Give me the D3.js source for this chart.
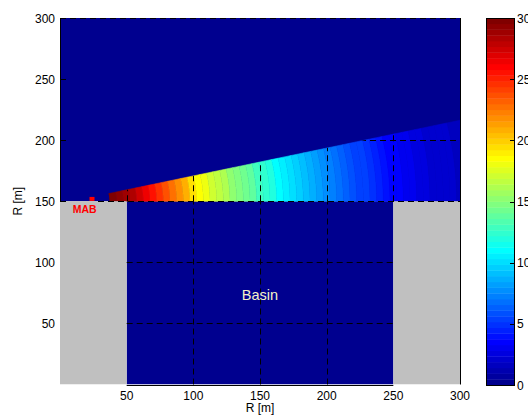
<!DOCTYPE html>
<html>
<head>
<meta charset="utf-8">
<script src="https://cdn.jsdelivr.net/npm/d3@7"></script>
<style>
  body { margin: 0; background: #fff; }
  svg { display: block; font-family: "Liberation Sans", Arial, sans-serif; }
</style>
</head>
<body>
<svg id="chart" width="528" height="419"></svg>
<script>
// ---- tick labels ----
const xTicks = [50, 100, 150, 200, 250, 300];
const yTicks = [50, 100, 150, 200, 250, 300];
const cbarTicks = [0, 5, 10, 15, 20, 25, 30];
const gridTicks = [50, 100, 150, 200, 250];

// ---- field along the beam: value sampled every 5 m of R ----
const beamR = [35, 40, 45, 50, 55, 60, 65, 70, 75, 80, 85, 90, 95, 100, 105, 110, 115, 120,
  125, 130, 135, 140, 145, 150, 155, 160, 165, 170, 175, 180, 185, 190, 195, 200, 205, 210,
  215, 220, 225, 230, 235, 240, 245, 250, 255, 260, 265, 270, 275, 280, 285, 290, 295, 300];
const beamValue = [30.0, 29.8, 29.3, 28.8, 28.2, 27.4, 26.5, 25.6, 24.7, 23.8, 22.9, 22.0,
  20.8, 19.4, 18.6, 17.9, 17.3, 16.7, 16.1, 15.3, 14.8, 14.2, 13.7, 13.1, 12.5, 11.8, 11.2,
  10.6, 10.1, 9.6, 9.1, 8.6, 8.1, 7.6, 7.2, 6.8, 6.4, 6.0, 5.6, 5.2, 4.8, 4.4, 4.0, 3.7,
  3.4, 3.1, 2.9, 2.7, 2.5, 2.3, 2.1, 2.0, 1.9, 1.8];

// ---- scene regions (in metres) ----
const walls = [{ x0: 0, x1: 50, y0: 0, y1: 150 }, { x0: 250, x1: 300, y0: 0, y1: 150 }];
const basin = { x0: 50, x1: 250, y0: 0, y1: 150, label: "Basin", lx: 150, ly: 73 };
const water = { x0: 0, x1: 300, y0: 150, y1: 300 };
const source = { x: 24, y: 151.5, label: "MAB", lx: 18.5, ly: 140 };
const beam = { ox: 9, oy: 150, startR: 37.5, topAtEnd: 216.3, endR: 300 };
const cmin = 0, cmax = 30;

// ---- MATLAB style jet(64) colormap ----
function jet64() {
  const m = 64, n = 16;
  const u = [];
  for (let i = 1; i <= n; i++) u.push(i / n);
  for (let i = 1; i < n; i++) u.push(1);
  for (let i = n; i >= 1; i--) u.push(i / n);
  const r = new Array(m).fill(0), g = new Array(m).fill(0), b = new Array(m).fill(0);
  u.forEach((v, i0) => {
    const i = i0 + 1;
    const gi = 8 + i, ri = gi + n, bi = gi - n;
    if (gi >= 1 && gi <= m) g[gi - 1] = v;
    if (ri >= 1 && ri <= m) r[ri - 1] = v;
    if (bi >= 1 && bi <= m) b[bi - 1] = v;
  });
  return r.map((_, k) => d3.rgb(Math.round(r[k] * 255), Math.round(g[k] * 255), Math.round(b[k] * 255)).formatHex());
}
const cmap = jet64();
const colorOf = v => cmap[Math.max(0, Math.min(63, Math.floor((v - cmin) / (cmax - cmin) * 64)))];
const navy = cmap[0];

// ---- layout ----
const svg = d3.select("#chart");
const x = d3.scaleLinear().domain([0, 300]).range([60, 460]);
const y = d3.scaleLinear().domain([0, 300]).range([384.5, 18]);
const cy = d3.scaleLinear().domain([cmin, cmax]).range([385, 18]);
const cbX0 = 486, cbX1 = 514;
const px = v => Math.round(v) + 0.5;

const defs = svg.append("defs");
defs.append("clipPath").attr("id", "plotClip").append("rect")
  .attr("x", x(0)).attr("y", y(300)).attr("width", x(300) - x(0)).attr("height", y(0) - y(300));

// beam geometry
const theta = Math.atan((beam.topAtEnd - beam.oy) / (beam.endR - beam.ox));
function sector(r0, r1, a0, a1) {
  const steps = 16, pts = [];
  for (let i = 0; i <= steps; i++) {
    const a = a0 + (a1 - a0) * i / steps;
    pts.push([beam.ox + r1 * Math.cos(a), beam.oy + r1 * Math.sin(a)]);
  }
  for (let i = steps; i >= 0; i--) {
    const a = a0 + (a1 - a0) * i / steps;
    pts.push([beam.ox + r0 * Math.cos(a), beam.oy + r0 * Math.sin(a)]);
  }
  return pts;
}
const line = d3.line().x(d => x(d[0])).y(d => y(d[1]));

// grid clip for the beam
defs.append("clipPath").attr("id", "beamClip").append("path")
  .attr("d", line(sector(beam.startR - beam.ox - 9, 320, -0.02, theta)) + "Z");

const plot = svg.append("g").attr("clip-path", "url(#plotClip)");

// water above the basin and the basin itself
[water, basin].forEach(r => {
  plot.append("rect").attr("x", x(r.x0)).attr("y", y(r.y1))
    .attr("width", x(r.x1) - x(r.x0)).attr("height", y(r.y0) - y(r.y1)).attr("fill", navy);
});

// beam field, one ring per sample
const bands = beamR.map((r, i) => {
  const inner = i === 0 ? beam.startR : r - 2.5;
  const outer = i === beamR.length - 1 ? r + 15 : r + 2.5;
  return { r0: inner - beam.ox, r1: outer - beam.ox, v: beamValue[i] };
});
plot.append("g").selectAll("path").data(bands).join("path")
  .attr("d", d => line(sector(d.r0, d.r1, 0, theta)) + "Z")
  .attr("fill", d => colorOf(d.v))
  .attr("stroke", d => colorOf(d.v)).attr("stroke-width", 0.6);

// side walls
plot.append("g").selectAll("rect").data(walls).join("rect")
  .attr("x", d => x(d.x0)).attr("y", d => y(d.y1))
  .attr("width", d => x(d.x1) - x(d.x0)).attr("height", d => y(d.y0) - y(d.y1))
  .attr("fill", "#c0c0c0");

// dashed grid: inside the basin ...
const dash = sel => sel.attr("stroke", "#000").attr("stroke-width", 1)
  .attr("stroke-dasharray", "6,4").attr("fill", "none");
const basinGrid = svg.append("g").call(dash);
const innerX = gridTicks.filter(t => t > basin.x0 && t < basin.x1);
const innerY = gridTicks.filter(t => t > basin.y0 && t < basin.y1);
basinGrid.selectAll("line.v").data(innerX).join("line").attr("class", "v")
  .attr("x1", d => px(x(d))).attr("x2", d => px(x(d)))
  .attr("y1", y(basin.y0)).attr("y2", y(basin.y1));
basinGrid.selectAll("line.h").data(innerY).join("line").attr("class", "h")
  .attr("y1", d => px(y(d))).attr("y2", d => px(y(d)))
  .attr("x1", x(basin.x0)).attr("x2", x(basin.x1));
// ... along the basin rim ...
basinGrid.append("line").attr("y1", px(y(basin.y1))).attr("y2", px(y(basin.y1)))
  .attr("x1", x(beam.startR - 9)).attr("x2", x(300));
// ... and inside the beam
const beamGrid = svg.append("g").attr("clip-path", "url(#beamClip)").call(dash);
beamGrid.selectAll("line.v").data(gridTicks.concat([300])).join("line").attr("class", "v")
  .attr("x1", d => px(x(d))).attr("x2", d => px(x(d)))
  .attr("y1", y(basin.y1)).attr("y2", y(300));
beamGrid.selectAll("line.h").data(gridTicks.filter(t => t > basin.y1)).join("line").attr("class", "h")
  .attr("y1", d => px(y(d))).attr("y2", d => px(y(d)))
  .attr("x1", x(0)).attr("x2", x(300));

// top edge drawn dashed
svg.append("line").attr("x1", x(0)).attr("x2", x(300))
  .attr("y1", px(y(300))).attr("y2", px(y(300))).call(dash);

// axis lines
const ax = svg.append("g").attr("stroke", "#000").attr("stroke-width", 1);
ax.append("line").attr("x1", x(0) + 0.5).attr("x2", x(0) + 0.5).attr("y1", y(300)).attr("y2", y(150));
ax.append("line").attr("x1", x(300) + 0.5).attr("x2", x(300) + 0.5).attr("y1", y(300)).attr("y2", y(0));
ax.append("line").attr("x1", x(basin.x0)).attr("x2", x(basin.x1))
  .attr("y1", px(y(0))).attr("y2", px(y(0)));
ax.selectAll("line.tk").data(yTicks.filter(t => t >= 150)).join("line").attr("class", "tk")
  .attr("x1", x(0)).attr("x2", x(0) + 6)
  .attr("y1", d => px(y(d))).attr("y2", d => px(y(d)));

// tick labels
const lab = svg.append("g").attr("font-size", 12).attr("fill", "#000");
lab.selectAll("text.x").data(xTicks).join("text").attr("class", "x")
  .attr("x", d => x(d)).attr("y", 399.5).attr("text-anchor", "middle").text(d => d);
lab.selectAll("text.y").data(yTicks).join("text").attr("class", "y")
  .attr("x", 55).attr("y", d => y(d) + 4.5).attr("text-anchor", "end").text(d => d);

// axis titles
svg.append("text").attr("x", 260).attr("y", 412).attr("text-anchor", "middle")
  .attr("font-size", 12).text("R [m]");
svg.append("text").attr("transform", `translate(22,${y(150)}) rotate(-90)`)
  .attr("text-anchor", "middle").attr("font-size", 12).text("R [m]");

// annotations
svg.append("rect").attr("x", x(source.x) - 2.5).attr("y", y(source.y) - 2.5)
  .attr("width", 5).attr("height", 4).attr("fill", "#ff0000");
svg.append("text").attr("x", x(source.lx)).attr("y", y(source.ly))
  .attr("text-anchor", "middle").attr("font-size", 10.5).attr("font-weight", "bold")
  .attr("fill", "#ff0000").text(source.label);
svg.append("text").attr("x", x(basin.lx)).attr("y", y(basin.ly) + 5)
  .attr("text-anchor", "middle").attr("font-size", 14.5)
  .attr("fill", "#f4f2c8").text(basin.label);

// colour bar
const cb = svg.append("g");
cb.selectAll("rect").data(cmap).join("rect")
  .attr("x", cbX0).attr("width", cbX1 - cbX0)
  .attr("y", (d, k) => cy(cmin + (k + 1) * (cmax - cmin) / 64))
  .attr("height", (d, k) => cy(cmin + k * (cmax - cmin) / 64) - cy(cmin + (k + 1) * (cmax - cmin) / 64) + 0.4)
  .attr("fill", d => d);
cb.append("rect").attr("x", cbX0 + 0.5).attr("y", cy(cmax) + 0.5)
  .attr("width", cbX1 - cbX0).attr("height", cy(cmin) - cy(cmax))
  .attr("fill", "none").attr("stroke", "#000");
cb.selectAll("line").data(cbarTicks).join("line")
  .attr("x1", cbX1 - 4).attr("x2", cbX1)
  .attr("y1", d => px(cy(d))).attr("y2", d => px(cy(d)))
  .attr("stroke", "#000");
cb.selectAll("text").data(cbarTicks).join("text")
  .attr("x", 517).attr("y", d => cy(d) + 4.5).attr("font-size", 12).text(d => d);
</script>
</body>
</html>
